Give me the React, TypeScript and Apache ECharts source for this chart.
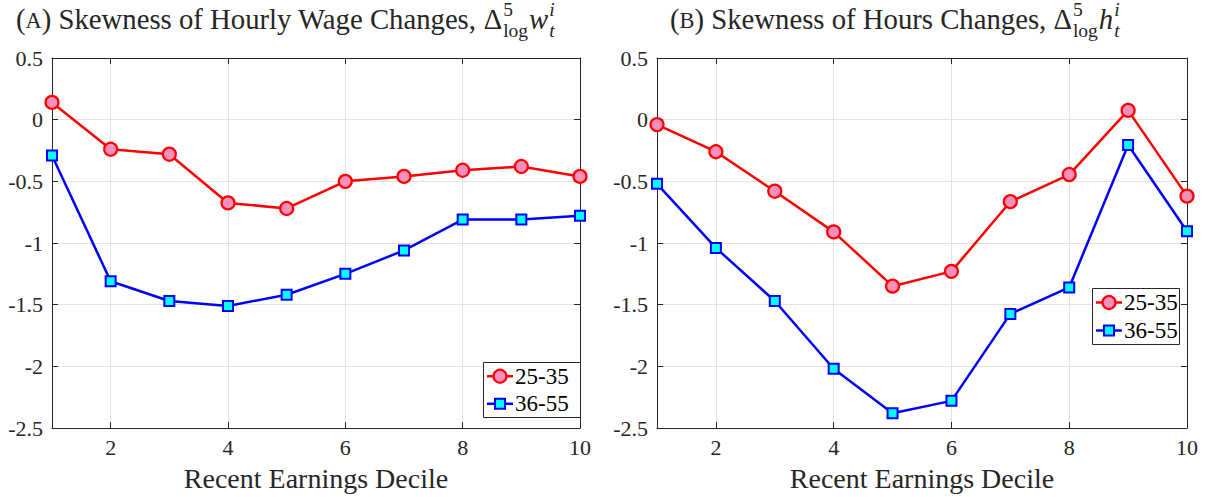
import React, { useEffect, useRef } from 'react';
import * as echarts from 'echarts';

// Recent earnings deciles and skewness values by age group
const deciles = [1, 2, 3, 4, 5, 6, 7, 8, 9, 10];
const wageYoung = [0.14, -0.24, -0.28, -0.675, -0.72, -0.5, -0.46, -0.41, -0.38, -0.46];
const wageOld = [-0.29, -1.31, -1.47, -1.51, -1.42, -1.25, -1.06, -0.81, -0.81, -0.78];
const hoursYoung = [-0.04, -0.26, -0.58, -0.91, -1.35, -1.23, -0.665, -0.445, 0.075, -0.62];
const hoursOld = [-0.52, -1.04, -1.47, -2.02, -2.38, -2.28, -1.575, -1.36, -0.205, -0.905];
const xTicks = [2, 4, 6, 8, 10];
const yTicks = [0.5, 0, -0.5, -1, -1.5, -2, -2.5];
const ageGroups = ['25-35', '36-55'];
const xAxisTitle = 'Recent Earnings Decile';

const FONT = 'Liberation Serif';
const INK = '#262626';
const RED = '#ff0000';
const PINK = '#f98fbd';
const BLUE = '#0000ff';
const CYAN = '#00ffff';

const TICK_SIZE = 22;
const NAME_SIZE = 28;
const KEY_SIZE = 23;

let measureCtx: CanvasRenderingContext2D | null = null;
function textWidth(text: string, size: number, italic = false): number {
  if (!measureCtx) measureCtx = document.createElement('canvas').getContext('2d');
  if (!measureCtx) return text.length * size * 0.5;
  measureCtx.font = `${italic ? 'italic ' : ''}${size}px ${FONT}`;
  return measureCtx.measureText(text).width;
}

function textEl(t: string, x: number, y: number, size: number, opts: any = {}) {
  const style: any = {
    text: t,
    fontSize: size,
    fontFamily: FONT,
    fill: opts.fill || INK,
    align: opts.align || 'left',
    verticalAlign: 'middle',
  };
  if (opts.italic) style.fontStyle = 'italic';
  return { type: 'text', x, y, style };
}

type Piece =
  | { text: string; scale: number; italic?: boolean; dy?: number }
  | { sup: string; sub: string; scale: number; italic?: boolean };

function titlePieces(letter: string, body: string, variable: string): Piece[] {
  return [
    { text: '(', scale: 1 },
    { text: letter, scale: 0.78, dy: 1.5 },
    { text: ') ' + body + ' ', scale: 1 },
    { text: 'Δ', scale: 1 },
    { sup: '5', sub: 'log', scale: 0.68 },
    { text: variable, scale: 1, italic: true },
    { sup: 'i', sub: 't', scale: 0.68, italic: true },
  ];
}

function piecesWidth(pieces: Piece[], F: number): number {
  let w = 0;
  for (const p of pieces) {
    if ('text' in p) w += textWidth(p.text, F * p.scale, p.italic);
    else w += Math.max(textWidth(p.sup, F * p.scale, p.italic), textWidth(p.sub, F * p.scale, p.italic)) + 2;
  }
  return w;
}

// Lays out a panel title with a small-caps letter and a Δ^5_log x^i_t expression
function buildTitle(startX: number, pieces: Piece[], F: number) {
  const midY = 19;
  const els: any[] = [];
  let x = startX;
  for (const p of pieces) {
    const size = F * p.scale;
    if ('text' in p) {
      els.push(textEl(p.text, x, midY + (p.dy || 0), size, { italic: p.italic }));
      x += textWidth(p.text, size, p.italic);
    } else {
      els.push(textEl(p.sup, x + 1, midY - 10, size, { italic: p.italic }));
      els.push(textEl(p.sub, x + 1, midY + 11, size, { italic: p.italic }));
      x += Math.max(textWidth(p.sup, size, p.italic), textWidth(p.sub, size, p.italic)) + 2;
    }
  }
  return els;
}

const grids = [
  { left: 52, top: 58, width: 528, height: 370 },
  { left: 657, top: 58, width: 530, height: 370 },
];
const legendBoxes = [
  { left: 483, top: 362, width: 97, height: 55 },
  { left: 1092, top: 288, width: 87, height: 56 },
];

function axesFor(i: number) {
  const lineStyle = { color: INK, width: 1 };
  const split = { show: true, lineStyle: { color: '#e2e2e2', width: 1 } };
  const base = { type: 'value', gridIndex: i, axisLabel: { show: false } };
  const tick = { show: true, inside: true, length: 6, lineStyle };
  const xRange = { min: 1, max: 10 };
  const yRange = { min: -2.5, max: 0.5, interval: 0.5 };
  return {
    x: [
      {
        ...base,
        ...xRange,
        position: 'bottom',
        axisLine: { show: true, onZero: false, lineStyle },
        axisTick: { ...tick, customValues: xTicks },
        splitLine: split,
      },
      {
        ...base,
        ...xRange,
        position: 'top',
        axisLine: { show: true, onZero: false, lineStyle },
        axisTick: { ...tick, customValues: xTicks },
        splitLine: { show: false },
      },
    ],
    y: [
      {
        ...base,
        ...yRange,
        position: 'left',
        axisLine: { show: true, onZero: false, lineStyle },
        axisTick: tick,
        splitLine: split,
      },
      {
        ...base,
        ...yRange,
        position: 'right',
        axisLine: { show: true, onZero: false, lineStyle },
        axisTick: tick,
        splitLine: { show: false },
      },
    ],
  };
}

const youngStyle = {
  symbol: 'circle',
  symbolSize: 13,
  lineStyle: { color: RED, width: 2.5 },
  itemStyle: { color: PINK, borderColor: RED, borderWidth: 2.2 },
};
const oldStyle = {
  symbol: 'rect',
  symbolSize: 10,
  lineStyle: { color: BLUE, width: 2.5 },
  itemStyle: { color: CYAN, borderColor: BLUE, borderWidth: 2 },
};

function lineSeries(name: string, values: number[], panel: number, style: any) {
  return {
    type: 'line',
    name,
    xAxisIndex: panel * 2,
    yAxisIndex: panel * 2,
    data: deciles.map((d, k) => [d, values[k]]),
    clip: false,
    z: 3,
    ...style,
  };
}

// Boxed key with a line sample, marker and age-group label per row
function legendGraphics(box: { left: number; top: number; width: number; height: number }) {
  const els: any[] = [
    {
      type: 'rect',
      z: 20,
      shape: { x: box.left + 0.5, y: box.top + 0.5, width: box.width, height: box.height },
      style: { fill: '#ffffff', stroke: INK, lineWidth: 1 },
    },
  ];
  const rowH = box.height / 2;
  ageGroups.forEach((g, k) => {
    const cy = box.top + rowH * (k + 0.5) + 0.5;
    const x0 = box.left + 4;
    const color = k === 0 ? RED : BLUE;
    els.push({
      type: 'line',
      z: 21,
      shape: { x1: x0, y1: cy, x2: x0 + 26, y2: cy },
      style: { stroke: color, lineWidth: 2.5 },
    });
    if (k === 0) {
      els.push({
        type: 'circle',
        z: 22,
        shape: { cx: x0 + 13, cy, r: 6.5 },
        style: { fill: PINK, stroke: RED, lineWidth: 2.2 },
      });
    } else {
      els.push({
        type: 'rect',
        z: 22,
        shape: { x: x0 + 8, y: cy - 5, width: 10, height: 10 },
        style: { fill: CYAN, stroke: BLUE, lineWidth: 2 },
      });
    }
    els.push({ ...textEl(g, x0 + 28, cy, KEY_SIZE, { fill: '#000000' }), z: 22 });
  });
  return els;
}

export default function App() {
  const ref = useRef<HTMLDivElement>(null);

  useEffect(() => {
    if (!ref.current) return;
    const chart = echarts.init(ref.current, undefined, { renderer: 'svg' });
    const a0 = axesFor(0);
    const a1 = axesFor(1);
    chart.setOption({
      animation: false,
      backgroundColor: '#ffffff',
      grid: grids.map((g) => ({ ...g, containLabel: false, show: false })),
      xAxis: [...a0.x, ...a1.x],
      yAxis: [...a0.y, ...a1.y],
      series: [
        lineSeries(ageGroups[1], wageOld, 0, oldStyle),
        lineSeries(ageGroups[0], wageYoung, 0, youngStyle),
        lineSeries(ageGroups[1], hoursOld, 1, oldStyle),
        lineSeries(ageGroups[0], hoursYoung, 1, youngStyle),
      ],
    });

    // Tick labels and axis titles, placed through each panel's axis scales
    const axisTexts: any[] = [];
    [0, 1].forEach((i) => {
      const xIdx = i * 2;
      const yIdx = i * 2;
      const yBottom = chart.convertToPixel({ yAxisIndex: yIdx }, -2.5) as number;
      const xLeft = chart.convertToPixel({ xAxisIndex: xIdx }, 1) as number;
      const xRight = chart.convertToPixel({ xAxisIndex: xIdx }, 10) as number;
      xTicks.forEach((v) => {
        const px = chart.convertToPixel({ xAxisIndex: xIdx }, v) as number;
        axisTexts.push(textEl(String(v), px, yBottom + 19, TICK_SIZE, { align: 'center' }));
      });
      yTicks.forEach((v) => {
        const py = chart.convertToPixel({ yAxisIndex: yIdx }, v) as number;
        axisTexts.push(textEl(String(v), xLeft - 9, py, TICK_SIZE, { align: 'right' }));
      });
      axisTexts.push(textEl(xAxisTitle, (xLeft + xRight) / 2, yBottom + 50, NAME_SIZE, { align: 'center' }));
    });

    const leftTitle = titlePieces('A', 'Skewness of Hourly Wage Changes,', 'w');
    const rightTitle = titlePieces('B', 'Skewness of Hours Changes,', 'h');
    // common title size so that the left caption spans its panel heading
    const titleSize = Math.min(30, Math.max(20, (100 * 537) / piecesWidth(leftTitle, 100)));

    chart.setOption({
      graphic: [
        ...buildTitle(16, leftTitle, titleSize),
        ...buildTitle(670, rightTitle, titleSize),
        ...axisTexts,
        ...legendGraphics(legendBoxes[0]),
        ...legendGraphics(legendBoxes[1]),
      ],
    });
    return () => chart.dispose();
  }, []);

  return (
    <div
      ref={ref}
      style={{ position: 'absolute', left: 0, top: 0, width: 1209, height: 497, background: '#fff' }}
    />
  );
}
